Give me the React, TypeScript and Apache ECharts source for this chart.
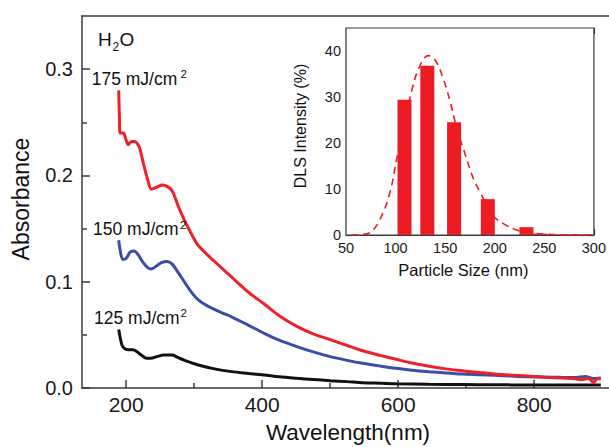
import React, { useEffect, useRef } from "react";
import * as echarts from "echarts";

const FONT = "'Liberation Sans', Arial, Helvetica, sans-serif";
const AX = "#3a3a3a";

// Main plot: absorbance spectra [wavelength nm, absorbance]
const spec175: number[][] = [
  [189, 0.28], [190, 0.255], [191, 0.24], [196, 0.24], [199, 0.235], [203, 0.229], [208, 0.232],
  [212, 0.232], [219, 0.227], [225, 0.212], [232, 0.195], [237, 0.187], [245, 0.189], [253, 0.191],
  [262, 0.189], [268, 0.185], [276, 0.172], [284, 0.16], [295, 0.146], [306, 0.134], [330, 0.119],
  [354, 0.105], [380, 0.09], [403, 0.079], [425, 0.068], [451, 0.058], [475, 0.051],
  [500, 0.0455], [525, 0.04], [548, 0.035], [575, 0.0305], [597, 0.027], [620, 0.0235], [645, 0.0205],
  [670, 0.018], [694, 0.0163], [720, 0.0145], [742, 0.0132], [765, 0.0122], [790, 0.0113],
  [815, 0.0102], [839, 0.0093], [860, 0.0087], [870, 0.0078], [880, 0.009], [887, 0.005],
  [893, 0.009], [898, 0.0085],
];
const spec150: number[][] = [
  [189, 0.139], [191, 0.13], [195, 0.121], [200, 0.122], [206, 0.128], [212, 0.129], [218, 0.125],
  [225, 0.118], [232, 0.113], [237, 0.112], [245, 0.115], [252, 0.118], [260, 0.119], [267, 0.117],
  [275, 0.11], [287, 0.0985], [296, 0.09], [306, 0.083], [320, 0.077], [340, 0.071], [355, 0.067],
  [380, 0.059], [403, 0.0514], [425, 0.045], [451, 0.039], [475, 0.034], [500, 0.0295],
  [525, 0.026], [548, 0.0232], [575, 0.0205], [597, 0.0185], [620, 0.0168], [645, 0.0154],
  [670, 0.0142], [694, 0.0132], [720, 0.0125], [742, 0.0119], [765, 0.0112], [790, 0.0106],
  [815, 0.0103], [839, 0.01], [860, 0.0098], [875, 0.0108], [887, 0.009], [898, 0.0095],
];
const spec125: number[][] = [
  [189, 0.055], [191, 0.048], [194, 0.04], [198, 0.037], [204, 0.036], [210, 0.036], [216, 0.034],
  [222, 0.031], [230, 0.028], [236, 0.028], [245, 0.0295], [255, 0.031], [262, 0.031], [268, 0.031],
  [275, 0.029], [290, 0.025], [306, 0.0216], [330, 0.018], [355, 0.0154], [380, 0.0137],
  [403, 0.0122], [425, 0.0105], [451, 0.0091], [475, 0.008], [500, 0.0069], [525, 0.006],
  [548, 0.005], [575, 0.0045], [597, 0.004], [645, 0.0035], [694, 0.0033], [742, 0.003],
  [790, 0.0029], [839, 0.0028], [898, 0.0028],
];

// Main axis ticks
const mainXMajor = [200, 400, 600, 800];
const mainXMinor = [300, 500, 700];
const mainYMajor = [0, 0.1, 0.2, 0.3];
const mainYMinor = [0.05, 0.15, 0.25];

// Inset: DLS histogram
const dlsSize = [109, 132, 159, 193, 232, 246, 262, 277, 293];
const dlsIntensity = [29.4, 36.8, 24.5, 7.8, 1.7, 0.3, 0.1, 0.1, 0.1];
// Inset: fitted distribution (dashed)
const fitSize = [55, 65, 74, 84, 94, 102, 110, 117, 125, 133, 140, 148, 155, 162, 171, 178, 186, 193, 199, 210, 222, 235, 250, 270, 300];
const fitIntensity = [0, 0.1, 0.5, 3.3, 9, 17.5, 25, 32, 37, 39, 38, 34, 29, 23, 17, 12.5, 9, 6, 4, 2.3, 1.1, 0.5, 0.2, 0.05, 0];

const insetXMajor = [50, 100, 150, 200, 250, 300];
const insetXMinor = [75, 125, 175, 225, 275];
const insetYMajor = [0, 10, 20, 30, 40];
const insetYMinor = [5, 15, 25, 35];

function axis(
  gridIndex: number,
  position: string,
  min: number,
  max: number,
  ticks: number[],
  tickLen: number,
  opts: { line?: boolean; labels?: boolean; fontSize?: number; margin?: number; fmt?: (v: number) => string; lw?: number; noTicks?: boolean }
) {
  return {
    type: "value",
    gridIndex,
    position,
    min,
    max,
    splitLine: { show: false },
    axisLine: { show: !!opts.line, onZero: false, lineStyle: { color: AX, width: opts.lw ?? 1.5 } },
    axisTick: { show: !opts.noTicks, inside: true, length: tickLen, customValues: ticks, lineStyle: { color: AX, width: opts.lw ?? 1.5 } },
    axisLabel: {
      show: !!opts.labels,
      customValues: ticks,
      fontFamily: FONT,
      fontSize: opts.fontSize ?? 14,
      color: "#1a1a1a",
      margin: opts.margin ?? 6,
      formatter: opts.fmt ?? ((v: number) => String(v)),
    },
  };
}

function txt(text: string, x: number, y: number, size: number, extra: any = {}) {
  return {
    type: "text",
    x,
    y,
    rotation: extra.rotation ?? 0,
    z: 100,
    style: {
      text,
      fill: "#111",
      font: `${size}px ${FONT}`,
      align: extra.align ?? "left",
      verticalAlign: "middle",
    },
  };
}

export default function App() {
  const ref = useRef<HTMLDivElement>(null);
  useEffect(() => {
    document.body.style.margin = "0";
    const chart = echarts.init(ref.current!, undefined, { renderer: "svg" });
    const option: any = {
      animation: false,
      backgroundColor: "#fff",
      grid: [
        { left: 82, top: 16, right: -8, bottom: 59, show: false },
        { left: 346, top: 28, width: 253, height: 207, show: true, borderColor: AX, borderWidth: 1.2, backgroundColor: "#fff", z: 5 },
      ],
      xAxis: [
        axis(0, "bottom", 135, 910, mainXMajor, 8, { line: true, labels: true, fontSize: 21, margin: 6 }),
        axis(0, "bottom", 135, 910, mainXMinor, 5, {}),
        axis(1, "bottom", 50, 300, insetXMajor, 6, { line: true, labels: true, fontSize: 14.5, margin: 5, lw: 1.2 }),
        axis(1, "bottom", 50, 300, insetXMinor, 3.5, { lw: 1.2 }),
        axis(1, "top", 50, 300, insetXMajor, 6, { lw: 1.2 }),
        axis(1, "top", 50, 300, insetXMinor, 3.5, { lw: 1.2 }),
        axis(0, "top", 135, 910, mainXMajor, 8, { line: true, noTicks: true }),
      ],
      yAxis: [
        axis(0, "left", 0, 0.35, mainYMajor, 8, { line: true, labels: true, fontSize: 20, margin: 9, fmt: (v: number) => v.toFixed(1) }),
        axis(0, "left", 0, 0.35, mainYMinor, 5, {}),
        axis(1, "left", 0, 45, insetYMajor, 6, { line: true, labels: true, fontSize: 14.5, margin: 5, lw: 1.2 }),
        axis(1, "left", 0, 45, insetYMinor, 3.5, { lw: 1.2 }),
        axis(1, "right", 0, 45, insetYMajor, 6, { lw: 1.2 }),
        axis(1, "right", 0, 45, insetYMinor, 3.5, { lw: 1.2 }),
      ],
      series: [
        { type: "line", xAxisIndex: 0, yAxisIndex: 0, data: spec125, symbol: "none", smooth: 0.3, lineStyle: { color: "#111111", width: 3 }, z: 3 },
        { type: "line", xAxisIndex: 0, yAxisIndex: 0, data: spec150, symbol: "none", smooth: 0.3, lineStyle: { color: "#3a4ea6", width: 3 }, z: 4 },
        { type: "line", xAxisIndex: 0, yAxisIndex: 0, data: spec175, symbol: "none", smooth: 0.3, lineStyle: { color: "#ee2129", width: 3 }, z: 5 },
        {
          type: "bar",
          xAxisIndex: 2,
          yAxisIndex: 2,
          data: dlsSize.map((s, i) => [s, dlsIntensity[i]]),
          barWidth: 14,
          itemStyle: { color: "#ed1c24" },
          z: 10,
        },
        {
          type: "line",
          xAxisIndex: 2,
          yAxisIndex: 2,
          data: fitSize.map((s, i) => [s, fitIntensity[i]]),
          symbol: "none",
          smooth: 0.4,
          lineStyle: { color: "#ed1c24", width: 1.6, type: [7, 5] },
          z: 11,
        },
      ],
      graphic: [
        txt("H", 98, 39.7, 19),
        txt("2", 112.5, 47, 12),
        txt("O", 119.5, 39.7, 19),
        txt("175 mJ/cm", 91.7, 78.5, 17.5),
        txt("2", 180.5, 74.2, 11.5),
        txt("150 mJ/cm", 93, 228.7, 17.5),
        txt("2", 180, 224.7, 11.5),
        txt("125 mJ/cm", 94, 317.5, 17.5),
        txt("2", 180.5, 312.5, 11.5),
        txt("Absorbance", 21, 199, 23, { rotation: Math.PI / 2, align: "center" }),
        txt("Wavelength(nm)", 348, 432.5, 22.5, { align: "center" }),
        txt("Particle Size (nm)", 463.3, 270, 16.5, { align: "center" }),
        txt("DLS Intensity (%)", 300, 126, 16, { rotation: Math.PI / 2, align: "center" }),
      ],
    };
    chart.setOption(option);
    return () => chart.dispose();
  }, []);
  return <div ref={ref} style={{ position: "fixed", left: 0, top: 0, width: 609, height: 447 }} />;
}
